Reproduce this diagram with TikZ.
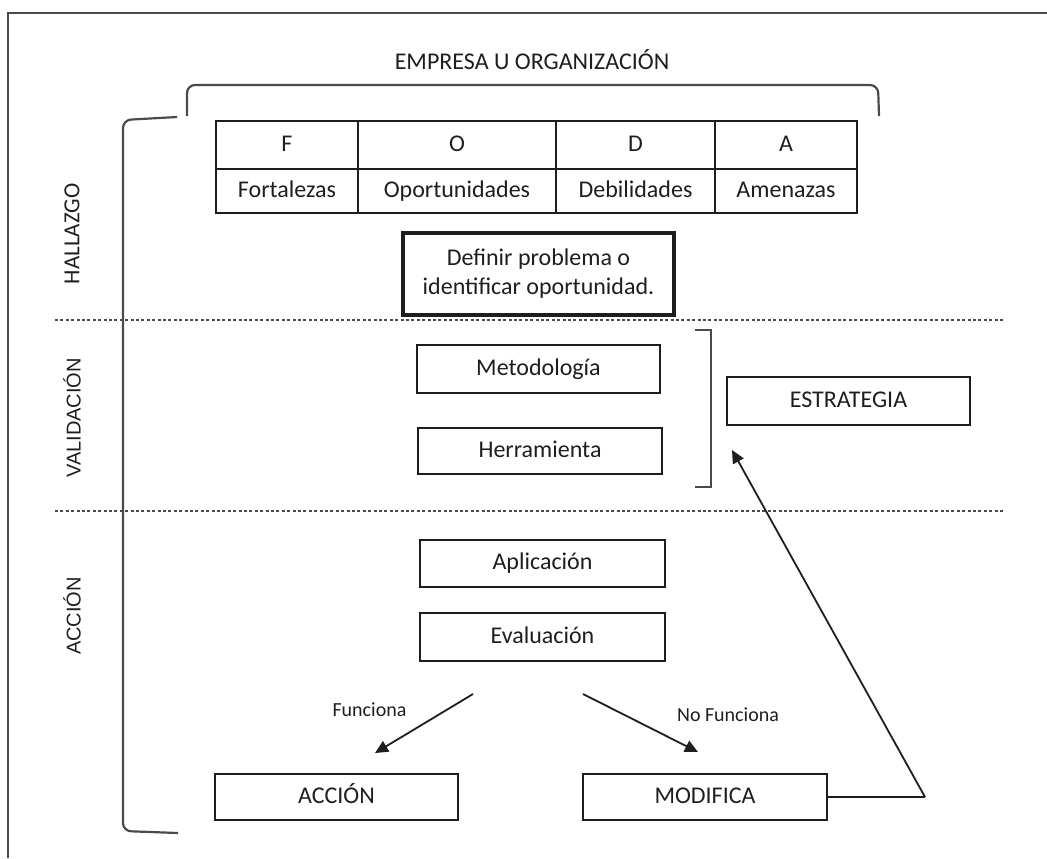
\documentclass[tikz,border=0pt]{standalone}
\usepackage{fontspec}
\setmainfont{Carlito}
\newfontfamily\arialf{Liberation Sans}
\usetikzlibrary{arrows.meta}
\definecolor{ink}{HTML}{1E1E1E}
\definecolor{framegray}{HTML}{4A4A4A}
\tikzset{
  cell/.style={draw=ink, line width=1pt, rectangle, inner sep=0pt, text=ink,
    font=\fontsize{12}{14.5}\selectfont, align=center},
  onecell/.style={cell, text height=8.6pt, text depth=2.4pt},
  thickcell/.style={cell, line width=1.6pt},
  sidelabel/.style={rotate=90, text=ink, inner sep=0pt},
  smalllabel/.style={text=ink, inner sep=0pt, font=\fontsize{10}{12}\selectfont},
  bracketline/.style={draw=framegray, line width=1.1pt},
  sepline/.style={draw=framegray, line width=1pt, dash pattern=on 1.5pt off 1.2pt},
  flowarrow/.style={draw=ink, line width=0.9pt, -{Triangle[length=6.5pt,width=6pt]}},
}
\begin{document}
\begin{tikzpicture}[x=0.5pt, y=-0.5pt]
\useasboundingbox (0,0) rectangle (1047,858);
% frame
\draw[draw=framegray, line width=1.1pt] (8,858) -- (8,13) -- (1047,13);
% title
\node[text=ink, inner sep=0pt, font=\fontsize{12}{14}\selectfont] (title) at (532,60) {EMPRESA U ORGANIZACIÓN};
% top brace
\draw[bracketline, rounded corners=4pt] (187,116) -- (187,85) -- (878,85) -- (879,116);
% left bracket
\draw[bracketline, rounded corners=4pt] (177,117) -- (123,120) -- (123,831) -- (178,833);
% side labels
\node[sidelabel, font=\fontsize{11.5}{13}\selectfont] (hallazgo) at (72,234) {HALLAZGO};
\node[sidelabel, font=\arialf\fontsize{10}{12}\selectfont] (validacion) at (72,418) {VALIDACIÓN};
\node[sidelabel, font=\arialf\fontsize{10}{12}\selectfont] (accionlbl) at (72,616) {ACCIÓN};
% FODA table
\node[onecell, minimum width=71pt, minimum height=24pt] (F) at (287,145) {F};
\node[onecell, minimum width=99pt, minimum height=24pt] (O) at (457,145) {O};
\node[onecell, minimum width=79.5pt, minimum height=24pt] (D) at (635.5,145) {D};
\node[onecell, minimum width=71pt, minimum height=24pt] (A) at (786,145) {A};
\node[onecell, minimum width=71pt, minimum height=22pt] (Fl) at (287,191) {Fortalezas};
\node[onecell, minimum width=99pt, minimum height=22pt] (Ol) at (457,191) {Oportunidades};
\node[onecell, minimum width=79.5pt, minimum height=22pt] (Dl) at (635.5,191) {Debilidades};
\node[onecell, minimum width=71pt, minimum height=22pt] (Al) at (786,191) {Amenazas};
% define problem
\node[thickcell, minimum width=135.5pt, minimum height=41pt] (definir) at (538.5,274) {Definir problema o\\identificar oportunidad.};
% separators
\draw[sepline] (55,320) -- (1005,320);
\draw[sepline] (55,511) -- (1005,511);
% validation
\node[onecell, minimum width=121.5pt, minimum height=24pt] (metod) at (538.5,369) {Metodología};
\node[onecell, minimum width=122pt, minimum height=23pt] (herr) at (540,451) {Herramienta};
\draw[bracketline] (695,330) -- (711,330) -- (711,487) -- (695,487);
\node[onecell, minimum width=121.5pt, minimum height=24pt] (estrategia) at (848.5,401) {ESTRATEGIA};
% action
\node[onecell, minimum width=122.5pt, minimum height=23.5pt] (aplic) at (542.5,563.5) {Aplicación};
\node[onecell, minimum width=122.5pt, minimum height=24pt] (eval) at (542.5,637) {Evaluación};
\node[onecell, minimum width=121.5pt, minimum height=23pt] (accion) at (336.5,797) {ACCIÓN};
\node[onecell, minimum width=122pt, minimum height=23pt] (modifica) at (705,797) {MODIFICA};
% arrows
\coordinate (fstart) at (473,694);
\coordinate (fend) at (375,753);
\coordinate (nstart) at (583,694);
\coordinate (nend) at (698,752);
\draw[flowarrow] (fstart) -- (fend);
\draw[flowarrow] (nstart) -- (nend);
\node[smalllabel] (funciona) at (369.5,710) {Funciona};
\node[smalllabel] (nofunciona) at (728,715) {No Funciona};
% feedback
\coordinate (turn) at (925,797);
\coordinate (tip) at (732,450);
\draw[draw=ink, line width=0.9pt] (modifica.east) -- (turn);
\draw[flowarrow] (turn) -- (tip);
\end{tikzpicture}
\end{document}
